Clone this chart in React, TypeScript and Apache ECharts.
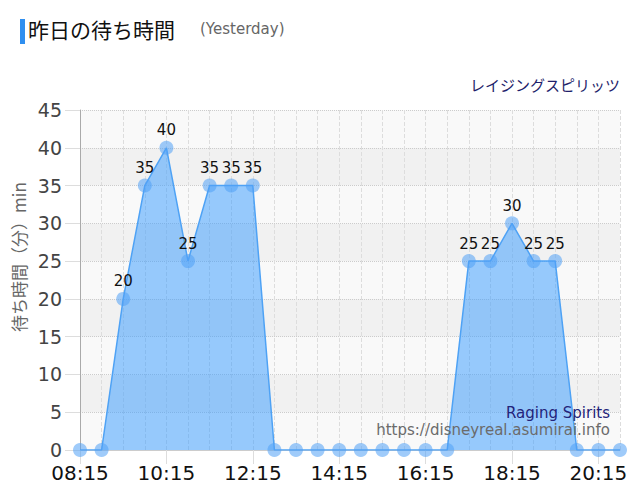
import React, { useEffect, useRef } from "react";
import * as echarts from "echarts";

const times = [
  "08:15", "08:45", "09:15", "09:45", "10:15", "10:45", "11:15", "11:45",
  "12:15", "12:45", "13:15", "13:45", "14:15", "14:45", "15:15", "15:45",
  "16:15", "16:45", "17:15", "17:45", "18:15", "18:45", "19:15", "19:45",
  "20:15", "20:45",
];
const waits = [0, 0, 20, 35, 40, 25, 35, 35, 35, 0, 0, 0, 0, 0, 0, 0, 0, 0, 25, 25, 30, 25, 25, 0, 0, 0];

const titleText = "昨日の待ち時間";
const subText = "(Yesterday)";
const attraction = "レイジングスピリッツ";
const yName = "待ち時間（分）min";

const JP = "Noto Sans CJK JP";
const NUM = "DejaVu Sans";

export default function App() {
  const ref = useRef<HTMLDivElement>(null);
  useEffect(() => {
    if (!ref.current) return;
    const chart = echarts.init(ref.current, null, { renderer: "svg" });
    chart.setOption({
      animation: false,
      backgroundColor: "#ffffff",
      grid: { left: 80, right: 20, top: 110, bottom: 50 },
      graphic: [
        { type: "rect", z: 100, left: 20, top: 19, shape: { width: 5, height: 25 }, style: { fill: "#2f8ff0" } },
        { type: "text", z: 100, left: 28, top: 18, style: { text: titleText, fontSize: 21, fontFamily: JP, fill: "#111" } },
        { type: "text", z: 100, left: 200, top: 21, style: { text: subText, fontSize: 15, fontFamily: NUM, fill: "#666" } },
        { type: "text", z: 100, right: 20, top: 77, style: { text: attraction, fontSize: 15, fontFamily: JP, fill: "#1f1f6b" } },
        { type: "text", z: 100, right: 30, top: 405, style: { text: "Raging Spirits", fontSize: 15, fontFamily: NUM, fill: "#23237a" } },
        { type: "text", z: 100, right: 30, top: 422, style: { text: "https://disneyreal.asumirai.info", fontSize: 15, fontFamily: NUM, fill: "#6b6b6b" } },
        {
          type: "text",
          z: 100,
          x: 18,
          y: 257,
          rotation: Math.PI / 2,
          style: { text: yName, fontSize: 17, fontFamily: JP, fill: "#666", align: "center", verticalAlign: "middle" },
        },
      ],
      xAxis: {
        type: "category",
        data: times,
        boundaryGap: false,
        axisLine: { show: true, lineStyle: { color: "#cccccc" } },
        axisTick: { show: true, interval: 3, length: 14, lineStyle: { color: "#dddddd" } },
        axisLabel: { interval: 3, fontSize: 20, lineHeight: 16, color: "#111", fontFamily: NUM, margin: 15 },
        splitLine: { show: true, interval: 0, lineStyle: { color: "#dddddd", type: "dashed" } },
      },
      yAxis: {
        type: "value",
        min: 0,
        max: 45,
        interval: 5,
        axisLine: { show: true, lineStyle: { color: "#aaaaaa" } },
        axisTick: { show: true, length: 15, lineStyle: { color: "#dddddd" } },
        axisLabel: { fontSize: 19, lineHeight: 18, color: "#444", fontFamily: NUM, margin: 18 },
        splitLine: { show: true, lineStyle: { color: "#cccccc", type: "dotted" } },
        splitArea: { show: true, areaStyle: { color: ["#f9f9f9", "#f1f1f1"] } },
      },
      series: [
        {
          type: "line",
          data: waits,
          symbol: "circle",
          symbolSize: 14,
          showSymbol: true,
          showAllSymbol: true,
          itemStyle: { color: "rgba(80,160,245,0.55)" },
          lineStyle: { color: "#4ea2f5", width: 1.5 },
          areaStyle: { color: "rgba(51,153,255,0.5)", opacity: 1 },
          labelLayout: { hideOverlap: false },
          label: {
            show: true,
            position: "top",
            distance: 3,
            fontSize: 15,
            color: "#111",
            fontFamily: NUM,
            formatter: (p: any) => (p.value > 0 ? String(p.value) : ""),
          },
        },
      ],
    });
    return () => chart.dispose();
  }, []);
  return <div ref={ref} style={{ width: 640, height: 500, margin: -8 }} />;
}
